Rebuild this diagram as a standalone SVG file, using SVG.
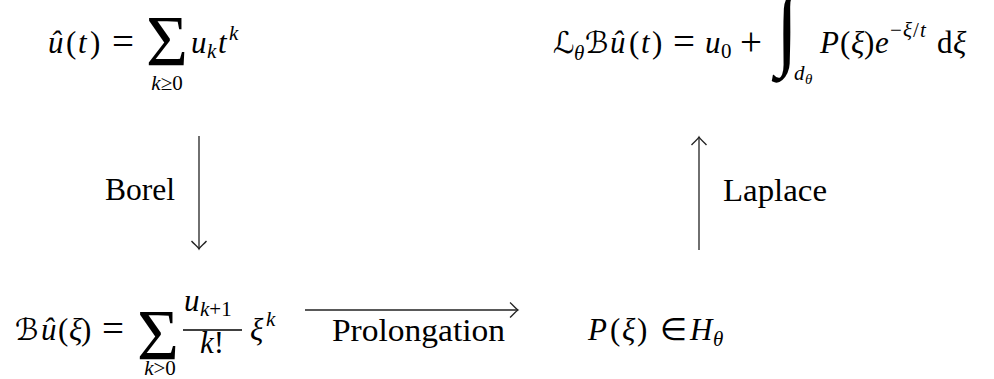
<svg xmlns="http://www.w3.org/2000/svg" width="994" height="379" viewBox="0 0 994 379">
<style>
text{font-family:"Liberation Serif","Times New Roman",serif;font-size:31px;fill:#000}
.i{font-style:italic}
.s{font-size:21px}
.ss{font-size:15px}
.scr{font-family:"DejaVu Sans",sans-serif;font-style:italic;font-size:30px}
.op{font-size:39px}
.big{font-size:72px}
.edge{stroke:#222;stroke-width:1.3;fill:none}
</style>
<defs>
<marker id="tip" viewBox="0 0 20 20" refX="10" refY="10" markerWidth="20" markerHeight="20" markerUnits="userSpaceOnUse" orient="auto">
<path d="M2,2.5 C5,5 8,9 10,10 C8,11 5,15 2,17.5" fill="none" stroke="#222" stroke-width="1.3"/>
</marker>
</defs>
<rect width="994" height="379" fill="#fff"/>

<g id="series">
<text y="53"><tspan x="48" class="i">û</tspan><tspan x="66">(</tspan><tspan x="78" class="i">t</tspan><tspan x="90">)</tspan></text>
<text class="op" x="112" y="55">=</text>
<text class="big" x="146" y="65">Σ</text>
<text class="s" x="167" y="90" text-anchor="middle"><tspan class="i">k</tspan>≥0</text>
<text y="53"><tspan x="191" class="i">u</tspan><tspan x="207" y="58" class="i s">k</tspan><tspan x="218" y="53" class="i">t</tspan><tspan x="229" y="40" class="i s">k</tspan></text>
</g>

<g id="laplace">
<text class="scr" x="553" y="53">ℒ</text>
<text class="s i" x="574" y="60">θ</text>
<text class="scr" x="585" y="53">ℬ</text>
<text y="53"><tspan x="610" class="i">û</tspan><tspan x="629">(</tspan><tspan x="641" class="i">t</tspan><tspan x="652">)</tspan></text>
<text class="op" x="673" y="55">=</text>
<text y="53"><tspan x="705" class="i">u</tspan><tspan x="721" y="58" class="s">0</tspan></text>
<text class="op" x="740" y="55">+</text>
<text transform="translate(776,57) scale(0.85,1)" style="font-size:95px">∫</text>
<text class="s" y="80"><tspan x="794" class="i">d</tspan><tspan x="805" y="84" class="i ss">θ</tspan></text>
<text y="53"><tspan x="820" class="i">P</tspan><tspan x="840">(</tspan><tspan x="851" class="i">ξ</tspan><tspan x="864">)</tspan><tspan x="875" class="i">e</tspan></text>
<text class="s" y="37"><tspan x="890">−</tspan><tspan x="903" class="i">ξ</tspan><tspan x="913">/</tspan><tspan x="920" class="i">t</tspan></text>
<text y="53"><tspan x="937">d</tspan><tspan x="953" class="i">ξ</tspan></text>
</g>

<g id="borel">
<text class="scr" x="15" y="340">ℬ</text>
<text y="340"><tspan x="41" class="i">û</tspan><tspan x="58">(</tspan><tspan x="69" class="i">ξ</tspan><tspan x="81">)</tspan></text>
<text class="op" x="102" y="342">=</text>
<text class="big" x="137" y="359">Σ</text>
<text class="s" x="160" y="375" text-anchor="middle"><tspan class="i">k</tspan>&gt;0</text>
<text y="311"><tspan x="184" class="i">u</tspan><tspan x="200" y="316" class="s"><tspan class="i">k</tspan>+1</tspan></text>
<line x1="183" y1="330" x2="242" y2="330" stroke="#000" stroke-width="1.3"/>
<text y="353" x="212" text-anchor="middle"><tspan class="i">k</tspan>!</text>
<text y="340"><tspan x="250" class="i">ξ</tspan><tspan x="266" y="326" class="i s">k</tspan></text>
</g>

<g id="poly">
<text y="340"><tspan x="588" class="i">P</tspan><tspan x="610">(</tspan><tspan x="622" class="i">ξ</tspan><tspan x="637">)</tspan></text>
<text x="660" y="340">∈</text>
<text y="340"><tspan x="690" class="i">H</tspan><tspan x="713" y="346" class="i s">θ</tspan></text>
</g>

<g id="connectors">
<line class="edge" x1="199" y1="136" x2="199" y2="249" marker-end="url(#tip)"/>
<line class="edge" x1="699" y1="250" x2="699" y2="137" marker-end="url(#tip)"/>
<line class="edge" x1="305" y1="310" x2="518" y2="310" marker-end="url(#tip)"/>
<text x="105" y="200" textLength="70" lengthAdjust="spacingAndGlyphs">Borel</text>
<text x="723" y="201" style="font-size:32px" textLength="104" lengthAdjust="spacingAndGlyphs">Laplace</text>
<text x="332" y="341" style="font-size:32px" textLength="173" lengthAdjust="spacingAndGlyphs">Prolongation</text>
</g>
</svg>
